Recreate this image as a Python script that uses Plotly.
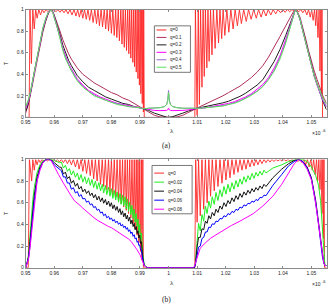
import plotly.graph_objects as go

W, H = 330, 307

# ===================== panel (a) =====================
# q = 0 : (lambda, T)
RED_A = [
    (0.9500, 0), (0.9512, 0), (0.9515, 1), (0.9520, 0.50), (0.9525, 1), (0.9530, 0.82), (0.9535, 1), (0.9540, 0.92),
    (0.9546, 1), (0.9552, 0.95), (0.9558, 1), (0.9564, 0.97), (0.9571, 1), (0.9578, 0.98), (0.9585, 1), (0.9592, 0.985),
    (0.9599, 1), (0.9606, 0.98), (0.9613, 1), (0.9620, 0.975), (0.9627, 1), (0.9634, 0.97), (0.9641, 1), (0.9648, 0.96),
    (0.9655, 1), (0.9662, 0.95), (0.9669, 1), (0.9676, 0.94), (0.9682, 1), (0.9688, 0.93), (0.9694, 1), (0.9700, 0.92),
    (0.9706, 1), (0.9712, 0.91), (0.9718, 1), (0.9724, 0.90), (0.9730, 1), (0.9736, 0.88), (0.9742, 1), (0.9748, 0.87),
    (0.9753, 1), (0.9758, 0.85), (0.9764, 1), (0.9769, 0.84), (0.9775, 1), (0.9780, 0.82), (0.9785, 1), (0.9790, 0.80),
    (0.9795, 1), (0.9800, 0.78), (0.9805, 1), (0.9810, 0.76), (0.9815, 1), (0.9819, 0.74), (0.9824, 1), (0.9828, 0.71),
    (0.9833, 1), (0.9837, 0.68), (0.9841, 1), (0.9845, 0.65), (0.9849, 1), (0.9853, 0.62), (0.9857, 1), (0.9861, 0.59),
    (0.9864, 1), (0.9868, 0.55), (0.9871, 1), (0.9875, 0.51), (0.9878, 1), (0.9881, 0.47), (0.9884, 1), (0.9887, 0.42),
    (0.9890, 1), (0.9893, 0.36), (0.9896, 1), (0.9898, 0.30), (0.9901, 1), (0.9903, 0.22), (0.9906, 1), (0.9908, 0.13),
    (0.9910, 1), (0.9912, 0.05), (0.9913, 1), (0.9915, 0),
    (1.0092, 0), (1.0094, 1), (1.0100, 0.02), (1.0104, 1), (1.0108, 0.12), (1.0112, 1), (1.0117, 0.28), (1.0121, 1),
    (1.0125, 0.38), (1.0129, 1), (1.0134, 0.46), (1.0138, 1), (1.0142, 0.52), (1.0147, 1), (1.0152, 0.58), (1.0157, 1),
    (1.0163, 0.64), (1.0169, 1), (1.0175, 0.69), (1.0180, 1), (1.0186, 0.73), (1.0191, 1), (1.0197, 0.76), (1.0204, 1),
    (1.0211, 0.79), (1.0218, 1), (1.0226, 0.82), (1.0233, 1), (1.0241, 0.85), (1.0248, 1), (1.0255, 0.87), (1.0263, 1),
    (1.0272, 0.89), (1.0280, 1), (1.0289, 0.91), (1.0298, 1), (1.0307, 0.92), (1.0315, 1), (1.0324, 0.93), (1.0332, 1),
    (1.0341, 0.94), (1.0349, 1), (1.0358, 0.95), (1.0366, 1), (1.0375, 0.96), (1.0383, 1), (1.0392, 0.97), (1.0400, 1),
    (1.0408, 0.975), (1.0416, 1), (1.0424, 0.98), (1.0432, 1), (1.0440, 0.985), (1.0448, 1), (1.0456, 0.98), (1.0463, 1),
    (1.0470, 0.97), (1.0477, 1), (1.0484, 0.95), (1.0490, 1), (1.0496, 0.93), (1.0501, 1), (1.0506, 0.90), (1.0511, 1),
    (1.0515, 0.85), (1.0519, 1), (1.0523, 0.74), (1.0527, 1), (1.0530, 0.43), (1.0533, 1), (1.0535, 0.21), (1.0537, 1),
    (1.0539, 0), (1.0555, 0),
]

LAM_A = [0.9500, 0.9505, 0.9510, 0.9515, 0.9520, 0.9530, 0.9540, 0.9550, 0.9560, 0.9570,
         0.9580, 0.9589, 0.9595, 0.9600, 0.9610, 0.9620, 0.9630, 0.9640, 0.9650, 0.9660,
         0.9680, 0.9700, 0.9720, 0.9740, 0.9760, 0.9780, 0.9800, 0.9820, 0.9840, 0.9860,
         0.9880, 0.9900, 0.9915, 0.9930, 0.9950, 0.9970, 0.9985, 0.9993, 0.9997, 1.0000,
         1.0003, 1.0007, 1.0015, 1.0030, 1.0050, 1.0070, 1.0085, 1.0095, 1.0110, 1.0130,
         1.0150, 1.0170, 1.0190, 1.0210, 1.0230, 1.0250, 1.0270, 1.0290, 1.0310, 1.0330,
         1.0350, 1.0370, 1.0390, 1.0400, 1.0410, 1.0420, 1.0430, 1.0437, 1.0444, 1.0450,
         1.0460, 1.0470, 1.0480, 1.0490, 1.0500, 1.0510, 1.0520, 1.0530, 1.0540, 1.0553]

T_A_Q01 = [0.04, 0.08, 0.13, 0.19, 0.26, 0.40, 0.54, 0.67, 0.79, 0.89,
           0.97, 1.0, 0.98, 0.95, 0.88, 0.80, 0.72, 0.65, 0.59, 0.54,
           0.46, 0.40, 0.36, 0.32, 0.29, 0.26, 0.23, 0.21, 0.18, 0.16,
           0.13, 0.10, 0.08, 0.05, 0.02, 0.005, 0.0, 0.0, 0.0, 0.0,
           0.0, 0.0, 0.0, 0.005, 0.02, 0.05, 0.07, 0.08, 0.10, 0.125,
           0.15, 0.17, 0.20, 0.23, 0.26, 0.29, 0.33, 0.37, 0.42, 0.48,
           0.56, 0.65, 0.75, 0.80, 0.85, 0.90, 0.95, 0.98, 1.0, 0.985,
           0.93, 0.84, 0.73, 0.62, 0.52, 0.43, 0.35, 0.27, 0.20, 0.13]
T_A_Q02 = [0.06, 0.09, 0.14, 0.20, 0.27, 0.42, 0.56, 0.69, 0.81, 0.90,
           0.97, 1.0, 0.98, 0.94, 0.86, 0.77, 0.67, 0.59, 0.53, 0.48,
           0.39, 0.33, 0.28, 0.25, 0.22, 0.19, 0.17, 0.15, 0.13, 0.12,
           0.10, 0.09, 0.08, 0.065, 0.04, 0.02, 0.008, 0.003, 0.001, 0.0,
           0.001, 0.003, 0.008, 0.02, 0.04, 0.06, 0.075, 0.08, 0.09, 0.10,
           0.11, 0.12, 0.135, 0.15, 0.17, 0.195, 0.225, 0.26, 0.30, 0.35,
           0.43, 0.52, 0.63, 0.69, 0.76, 0.83, 0.91, 0.96, 1.0, 0.98,
           0.91, 0.81, 0.70, 0.59, 0.48, 0.39, 0.31, 0.23, 0.15, 0.07]
T_A_Q03 = [0.08, 0.11, 0.15, 0.21, 0.28, 0.43, 0.57, 0.70, 0.82, 0.91,
           0.98, 1.0, 0.975, 0.93, 0.85, 0.75, 0.64, 0.56, 0.50, 0.45,
           0.36, 0.30, 0.25, 0.22, 0.19, 0.17, 0.15, 0.13, 0.12, 0.11,
           0.095, 0.09, 0.08, 0.07, 0.065, 0.063, 0.063, 0.065, 0.07, 0.085,
           0.07, 0.065, 0.063, 0.063, 0.065, 0.07, 0.078, 0.08, 0.085, 0.09,
           0.10, 0.105, 0.115, 0.13, 0.145, 0.165, 0.19, 0.22, 0.26, 0.305,
           0.37, 0.46, 0.57, 0.64, 0.72, 0.80, 0.89, 0.95, 1.0, 0.98,
           0.91, 0.80, 0.69, 0.58, 0.47, 0.38, 0.30, 0.23, 0.16, 0.10]
T_A_Q04 = [0.09, 0.12, 0.16, 0.21, 0.28, 0.43, 0.57, 0.70, 0.82, 0.91,
           0.98, 1.0, 0.975, 0.93, 0.84, 0.74, 0.63, 0.55, 0.49, 0.44,
           0.35, 0.29, 0.24, 0.21, 0.18, 0.16, 0.14, 0.13, 0.115, 0.10,
           0.095, 0.09, 0.08, 0.085, 0.085, 0.09, 0.10, 0.12, 0.16, 0.25,
           0.16, 0.12, 0.10, 0.09, 0.085, 0.085, 0.082, 0.08, 0.085, 0.09,
           0.095, 0.10, 0.11, 0.12, 0.135, 0.155, 0.18, 0.21, 0.245, 0.29,
           0.355, 0.44, 0.55, 0.62, 0.70, 0.79, 0.88, 0.95, 1.0, 0.98,
           0.91, 0.80, 0.69, 0.58, 0.47, 0.38, 0.30, 0.23, 0.16, 0.10]
T_A_Q05 = [0.10, 0.13, 0.17, 0.22, 0.29, 0.44, 0.58, 0.71, 0.83, 0.92,
           0.98, 1.0, 0.97, 0.92, 0.84, 0.73, 0.62, 0.54, 0.48, 0.43,
           0.34, 0.28, 0.24, 0.20, 0.18, 0.16, 0.14, 0.12, 0.11, 0.10,
           0.095, 0.09, 0.08, 0.085, 0.085, 0.09, 0.10, 0.115, 0.15, 0.23,
           0.15, 0.115, 0.10, 0.09, 0.085, 0.085, 0.082, 0.08, 0.085, 0.09,
           0.095, 0.10, 0.105, 0.12, 0.13, 0.15, 0.175, 0.205, 0.24, 0.285,
           0.35, 0.43, 0.54, 0.61, 0.69, 0.78, 0.88, 0.95, 1.0, 0.98,
           0.91, 0.80, 0.69, 0.58, 0.47, 0.38, 0.31, 0.24, 0.18, 0.12]

# ===================== panel (b) =====================
RED_B = [
    (0.9500, 0), (0.9509, 0), (0.9513, 1), (0.9521, 0.80), (0.9525, 1), (0.9530, 0.90), (0.9535, 1), (0.9540, 0.95),
    (0.9545, 1), (0.9551, 0.97), (0.9557, 1), (0.9563, 0.98), (0.9570, 1), (0.9576, 0.985), (0.9583, 1), (0.9590, 0.985),
    (0.9597, 1), (0.9604, 0.98), (0.9611, 1), (0.9618, 0.975), (0.9625, 1), (0.9632, 0.97), (0.9639, 1), (0.9646, 0.96),
    (0.9653, 1), (0.9660, 0.95), (0.9667, 1), (0.9674, 0.93), (0.9681, 1), (0.9687, 0.91), (0.9694, 1), (0.9700, 0.89),
    (0.9707, 1), (0.9713, 0.87), (0.9720, 1), (0.9726, 0.85), (0.9732, 1), (0.9738, 0.82), (0.9744, 1), (0.9750, 0.80),
    (0.9756, 1), (0.9762, 0.77), (0.9768, 1), (0.9773, 0.75), (0.9779, 1), (0.9784, 0.72), (0.9790, 1), (0.9795, 0.70),
    (0.9800, 1), (0.9805, 0.67), (0.9810, 1), (0.9815, 0.65), (0.9820, 1), (0.9825, 0.62), (0.9830, 1), (0.9834, 0.59),
    (0.9839, 1), (0.9843, 0.56), (0.9848, 1), (0.9852, 0.53), (0.9856, 1), (0.9860, 0.50), (0.9864, 1), (0.9868, 0.46),
    (0.9872, 1), (0.9876, 0.41), (0.9880, 1), (0.9883, 0.36), (0.9887, 1), (0.9890, 0.30), (0.9893, 1), (0.9896, 0.23),
    (0.9899, 1), (0.9902, 0.15), (0.9905, 1), (0.9907, 0.07), (0.9910, 1), (0.9912, 0),
    (1.0092, 0), (1.0095, 1), (1.0100, 0.42), (1.0105, 1), (1.0111, 0.48), (1.0117, 1), (1.0123, 0.54), (1.0129, 1),
    (1.0135, 0.60), (1.0141, 1), (1.0147, 0.66), (1.0153, 1), (1.0160, 0.71), (1.0166, 1), (1.0173, 0.75), (1.0180, 1),
    (1.0187, 0.78), (1.0194, 1), (1.0201, 0.81), (1.0208, 1), (1.0215, 0.83), (1.0222, 1), (1.0229, 0.86), (1.0236, 1),
    (1.0243, 0.88), (1.0250, 1), (1.0257, 0.90), (1.0264, 1), (1.0271, 0.91), (1.0278, 1), (1.0285, 0.93), (1.0292, 1),
    (1.0299, 0.94), (1.0306, 1), (1.0313, 0.95), (1.0320, 1), (1.0327, 0.96), (1.0334, 1), (1.0341, 0.97), (1.0348, 1),
    (1.0355, 0.975), (1.0362, 1), (1.0369, 0.98), (1.0376, 1), (1.0383, 0.985), (1.0390, 1), (1.0397, 0.985), (1.0404, 1),
    (1.0411, 0.985), (1.0418, 1), (1.0425, 0.985), (1.0432, 1), (1.0439, 0.985), (1.0446, 1), (1.0453, 0.98), (1.0460, 1),
    (1.0467, 0.97), (1.0474, 1), (1.0480, 0.95), (1.0486, 1), (1.0492, 0.93), (1.0498, 1), (1.0503, 0.90), (1.0508, 1),
    (1.0513, 0.86), (1.0518, 1), (1.0522, 0.80), (1.0526, 1), (1.0530, 0.72), (1.0534, 1), (1.0537, 0.50), (1.0540, 1),
    (1.0542, 0.27), (1.0544, 1), (1.0546, 0), (1.0555, 0),
]

LAM_B_L0 = [0.9500, 0.9505, 0.9510, 0.9515, 0.9520, 0.9525, 0.9530, 0.9540,
            0.9550, 0.9560, 0.9570, 0.9580, 0.9590, 0.9600, 0.9610, 0.9618]
LAM_B_RIP_L = [0.9625, 0.9632, 0.9639, 0.9646, 0.9653, 0.9660, 0.9667, 0.9674, 0.9681, 0.9687,
               0.9694, 0.9700, 0.9707, 0.9713, 0.9720, 0.9726, 0.9732, 0.9738, 0.9744, 0.9750,
               0.9756, 0.9762, 0.9768, 0.9773, 0.9779, 0.9784, 0.9790, 0.9795, 0.9800, 0.9805,
               0.9810, 0.9815, 0.9820, 0.9825, 0.9830, 0.9834, 0.9839, 0.9843, 0.9848, 0.9852,
               0.9856, 0.9860, 0.9864, 0.9868, 0.9872, 0.9876, 0.9880, 0.9883, 0.9887, 0.9890,
               0.9893, 0.9896, 0.9899, 0.9902, 0.9905]
LAM_B_MID = [0.9910, 0.9915, 0.9925, 1.0085]
LAM_B_R0 = [1.0090, 1.0094, 1.0097]
LAM_B_RIP_R = [1.0100, 1.0105, 1.0111, 1.0117, 1.0123, 1.0129, 1.0135, 1.0141, 1.0147, 1.0153,
               1.0160, 1.0166, 1.0173, 1.0180, 1.0187, 1.0194, 1.0201, 1.0208, 1.0215, 1.0222,
               1.0229, 1.0236, 1.0243, 1.0250, 1.0257, 1.0264, 1.0271, 1.0278, 1.0285, 1.0292,
               1.0299, 1.0306, 1.0313, 1.0320, 1.0327, 1.0334, 1.0341]
LAM_B_R1 = [1.0365, 1.0396, 1.0420, 1.0440, 1.0455, 1.0470, 1.0485, 1.0500,
            1.0515, 1.0525, 1.0532, 1.0538, 1.0543, 1.0547, 1.0553]

# q = 0.02
G_L0 = [0, 0.04, 0.12, 0.30, 0.48, 0.63, 0.74, 0.88, 0.95, 0.985, 1.0, 1.0, 1.0, 0.99, 0.98, 0.97]
G_RIP_L = [0.975, 0.92, 0.945, 0.89, 0.915, 0.855, 0.895, 0.835, 0.875, 0.81,
           0.86, 0.79, 0.84, 0.775, 0.83, 0.76, 0.815, 0.74, 0.80, 0.725,
           0.785, 0.71, 0.77, 0.69, 0.76, 0.675, 0.745, 0.66, 0.73, 0.64,
           0.715, 0.625, 0.70, 0.605, 0.685, 0.585, 0.67, 0.57, 0.655, 0.545,
           0.635, 0.52, 0.605, 0.49, 0.575, 0.455, 0.54, 0.42, 0.50, 0.38,
           0.45, 0.32, 0.40, 0.26, 0.32]
G_MID = [0.12, 0.03, 0.0, 0.0]
G_R0 = [0.0, 0.04, 0.16]
G_RIP_R = [0.25, 0.41, 0.34, 0.49, 0.43, 0.57, 0.50, 0.615, 0.55, 0.655,
           0.585, 0.695, 0.62, 0.72, 0.655, 0.75, 0.68, 0.77, 0.70, 0.785,
           0.725, 0.805, 0.745, 0.82, 0.77, 0.84, 0.79, 0.85, 0.81, 0.87,
           0.825, 0.88, 0.845, 0.89, 0.855, 0.90, 0.875]
G_R1 = [0.92, 0.95, 0.98, 0.995, 1.0, 1.0, 0.98, 0.93, 0.85, 0.76, 0.62, 0.40, 0.15, 0.03, 0.02]

# q = 0.04
K_L0 = [0, 0.04, 0.10, 0.24, 0.40, 0.55, 0.67, 0.84, 0.93, 0.975, 1.0, 1.0, 0.995, 0.97, 0.95, 0.93]
K_RIP_L = [0.925, 0.864, 0.883, 0.822, 0.841, 0.78, 0.806, 0.752, 0.778, 0.726,
           0.75, 0.70, 0.725, 0.685, 0.71, 0.665, 0.69, 0.645, 0.675, 0.625,
           0.66, 0.61, 0.645, 0.595, 0.63, 0.58, 0.615, 0.565, 0.60, 0.545,
           0.58, 0.53, 0.565, 0.51, 0.545, 0.49, 0.525, 0.47, 0.505, 0.45,
           0.485, 0.43, 0.465, 0.405, 0.44, 0.38, 0.41, 0.35, 0.38, 0.315,
           0.34, 0.275, 0.30, 0.225, 0.24]
K_MID = [0.09, 0.02, 0.0, 0.0]
K_R0 = [0.0, 0.03, 0.12]
K_RIP_R = [0.19, 0.28, 0.28, 0.36, 0.35, 0.43, 0.41, 0.48, 0.45, 0.51,
           0.48, 0.54, 0.51, 0.57, 0.54, 0.60, 0.565, 0.62, 0.59, 0.645,
           0.61, 0.665, 0.63, 0.685, 0.65, 0.70, 0.67, 0.715, 0.685, 0.73,
           0.70, 0.74, 0.715, 0.755, 0.73, 0.77, 0.75]
K_R1 = [0.83, 0.91, 0.96, 0.99, 1.0, 0.98, 0.93, 0.83, 0.62, 0.42, 0.25, 0.12, 0.05, 0.02, 0.02]

# q = 0.06
B_L0 = [0, 0.04, 0.09, 0.20, 0.34, 0.48, 0.62, 0.81, 0.91, 0.97, 0.995, 1.0, 0.99, 0.95, 0.93, 0.91]
B_RIP_L = [0.895, 0.837, 0.839, 0.781, 0.783, 0.725, 0.738, 0.69, 0.703, 0.658,
           0.675, 0.635, 0.64, 0.605, 0.615, 0.58, 0.59, 0.555, 0.565, 0.53,
           0.54, 0.505, 0.515, 0.48, 0.495, 0.46, 0.475, 0.445, 0.46, 0.43,
           0.445, 0.415, 0.43, 0.40, 0.415, 0.385, 0.40, 0.37, 0.385, 0.355,
           0.37, 0.335, 0.35, 0.315, 0.33, 0.29, 0.305, 0.265, 0.275, 0.235,
           0.245, 0.205, 0.21, 0.165, 0.165]
B_MID = [0.07, 0.02, 0.0, 0.0]
B_R0 = [0.0, 0.03, 0.08]
B_RIP_R = [0.12, 0.19, 0.20, 0.27, 0.28, 0.33, 0.33, 0.375, 0.37, 0.405,
           0.40, 0.43, 0.425, 0.455, 0.45, 0.48, 0.47, 0.50, 0.49, 0.52,
           0.51, 0.54, 0.53, 0.56, 0.55, 0.58, 0.57, 0.595, 0.59, 0.615,
           0.605, 0.63, 0.62, 0.65, 0.645, 0.67, 0.665]
B_R1 = [0.76, 0.86, 0.94, 0.98, 1.0, 0.98, 0.92, 0.82, 0.60, 0.40, 0.24, 0.11, 0.05, 0.02, 0.02]

# q = 0.08
LAM_B_M = [0.9500, 0.9505, 0.9510, 0.9515, 0.9520, 0.9525, 0.9530, 0.9540, 0.9550, 0.9560,
           0.9570, 0.9580, 0.9590, 0.9600, 0.9615, 0.9630, 0.9645, 0.9660, 0.9670, 0.9680,
           0.9690, 0.9700, 0.9710, 0.9720, 0.9735, 0.9750, 0.9765, 0.9780, 0.9790, 0.9800,
           0.9815, 0.9830, 0.9840, 0.9850, 0.9860, 0.9870, 0.9880, 0.9890, 0.9900, 0.9910,
           0.9915, 0.9925, 1.0085, 1.0090, 1.0094, 1.0100, 1.0111, 1.0125, 1.0146, 1.0170,
           1.0194, 1.0220, 1.0250, 1.0270, 1.0297, 1.0330, 1.0365, 1.0396, 1.0420, 1.0440,
           1.0455, 1.0470, 1.0485, 1.0500, 1.0515, 1.0525, 1.0532, 1.0538, 1.0543, 1.0547, 1.0553]
M_B = [0, 0.04, 0.08, 0.18, 0.30, 0.45, 0.60, 0.80, 0.90, 0.97,
       0.995, 1.0, 0.985, 0.93, 0.86, 0.79, 0.72, 0.66, 0.62, 0.60,
       0.575, 0.55, 0.525, 0.50, 0.47, 0.44, 0.415, 0.39, 0.38, 0.37,
       0.345, 0.32, 0.30, 0.285, 0.265, 0.24, 0.205, 0.165, 0.12, 0.05,
       0.02, 0.0, 0.0, 0.01, 0.04, 0.10, 0.18, 0.22, 0.27, 0.31,
       0.35, 0.39, 0.43, 0.46, 0.50, 0.57, 0.66, 0.77, 0.88, 0.96,
       1.0, 0.97, 0.91, 0.81, 0.59, 0.39, 0.23, 0.10, 0.05, 0.02, 0.02]

X_TICKS = [0.95, 0.96, 0.97, 0.98, 0.99, 1.00, 1.01, 1.02, 1.03, 1.04, 1.05]
X_TICK_TEXT = ["0.95", "0.96", "0.97", "0.98", "0.99", "1", "1.01", "1.02", "1.03", "1.04", "1.05"]
Y_TICKS = [0, 0.2, 0.4, 0.6, 0.8, 1.0]
Y_TICK_TEXT = ["0", "0.2", "0.4", "0.6", "0.8", "1"]

LEGEND_A = ["q=0", "q=0.1", "q=0.2", "q=0.3", "q=0.4", "q=0.5"]
LEGEND_B = ["q=0", "q=0.02", "q=0.04", "q=0.06", "q=0.08"]

# ---------------- styling ----------------
RED = "rgb(255,40,40)"
COLORS_A = [RED, "#b0305a", "#1e1e1e", "#ff00ff", "#9a6ad0", "#5ee05e"]
COLORS_B = [RED, "#22ee22", "#111111", "#0000ff", "#ff00ff"]


def px_x(p):
    return p / W


def px_y(p):
    return 1 - p / H


fig = go.Figure()


def add(x, y, color, xa, ya, width=1.0):
    n = min(len(x), len(y))
    fig.add_trace(go.Scatter(x=list(x[:n]), y=list(y[:n]), mode="lines",
                             line=dict(color=color, width=width),
                             xaxis=xa, yaxis=ya, showlegend=False, hoverinfo="skip"))


# panel (a)
rx, ry = zip(*RED_A)
add(rx, ry, COLORS_A[0], "x", "y", 0.9)
for ys, c in zip([T_A_Q01, T_A_Q02, T_A_Q03, T_A_Q04, T_A_Q05], COLORS_A[1:]):
    add(LAM_A, ys, c, "x", "y")

# panel (b)
rx, ry = zip(*RED_B)
add(rx, ry, COLORS_B[0], "x2", "y2", 0.9)
LAM_B = LAM_B_L0 + LAM_B_RIP_L + LAM_B_MID + LAM_B_R0 + LAM_B_RIP_R + LAM_B_R1
add(LAM_B, G_L0 + G_RIP_L + G_MID + G_R0 + G_RIP_R + G_R1, COLORS_B[1], "x2", "y2")
add(LAM_B, K_L0 + K_RIP_L + K_MID + K_R0 + K_RIP_R + K_R1, COLORS_B[2], "x2", "y2")
add(LAM_B, B_L0 + B_RIP_L + B_MID + B_R0 + B_RIP_R + B_R1, COLORS_B[3], "x2", "y2")
add(LAM_B_M, M_B, COLORS_B[4], "x2", "y2")

FRAME = "#8a8a8a"
TICKFONT = dict(size=5, color="#222", family="Liberation Sans")
common = dict(showline=True, linecolor=FRAME, linewidth=1, mirror="ticks", ticks="inside",
              ticklen=2, tickcolor=FRAME, showgrid=False, zeroline=False, tickfont=TICKFONT)
XDOM = [px_x(21), px_x(326.5)]
XR = [0.95, 1.0553]
YTITLE = dict(text="T", font=dict(size=5, color="#222", family="Liberation Sans"), standoff=7)

fig.update_layout(
    width=W, height=H, margin=dict(l=0, r=0, t=0, b=0),
    paper_bgcolor="white", plot_bgcolor="white", showlegend=False,
    xaxis=dict(domain=XDOM, range=XR, tickvals=X_TICKS, ticktext=X_TICK_TEXT, anchor="y", **common),
    yaxis=dict(domain=[px_y(116.7), px_y(6.7)], range=[0, 1], tickvals=Y_TICKS, ticktext=Y_TICK_TEXT,
               anchor="x", title=YTITLE, **common),
    xaxis2=dict(domain=XDOM, range=XR, tickvals=X_TICKS, ticktext=X_TICK_TEXT, anchor="y2", **common),
    yaxis2=dict(domain=[px_y(270), px_y(159.5)], range=[0, 1], tickvals=Y_TICKS, ticktext=Y_TICK_TEXT,
                anchor="x2", title=YTITLE, **common),
)

ann = []
shapes = []


def text(xp, yp, s, size, family="Liberation Sans", xanchor="center", color="#222"):
    ann.append(dict(x=px_x(xp), y=px_y(yp), xref="paper", yref="paper", text=s, showarrow=False,
                    font=dict(size=size, family=family, color=color),
                    xanchor=xanchor, yanchor="middle"))


for (lam_y, exp_y, cap_y, cap) in [(131, 133, 145, "(a)"), (286, 287, 302, "(b)")]:
    text(170, lam_y, "λ", 7, family="Liberation Serif")
    text(316, exp_y, "×10", 5)
    text(323.5, exp_y - 2.5, "-6", 4)
    text(164, cap_y, cap, 7.5, family="Liberation Serif")


def legend(box, y0, dy, labels, colors):
    x0, x1, top, bottom = box
    shapes.append(dict(type="rect", xref="paper", yref="paper", x0=px_x(x0), x1=px_x(x1),
                       y0=px_y(bottom), y1=px_y(top), line=dict(color="#555", width=0.8),
                       fillcolor="white", layer="above"))
    for i, (lab, c) in enumerate(zip(labels, colors)):
        yy = y0 + i * dy
        shapes.append(dict(type="line", xref="paper", yref="paper", x0=px_x(x0 + 2.2), x1=px_x(x0 + 12.2),
                           y0=px_y(yy), y1=px_y(yy), line=dict(color=c, width=1), layer="above"))
        text(x0 + 14, yy, lab, 4.5, xanchor="left")


legend((151.7, 188.3, 23.3, 70.7), 27.5, 7.6, LEGEND_A, COLORS_A)
legend((149.3, 190.0, 165.7, 215.0), 173.5, 9.2, LEGEND_B, COLORS_B)

fig.update_layout(annotations=ann, shapes=shapes)
fig.write_html("out.html")
